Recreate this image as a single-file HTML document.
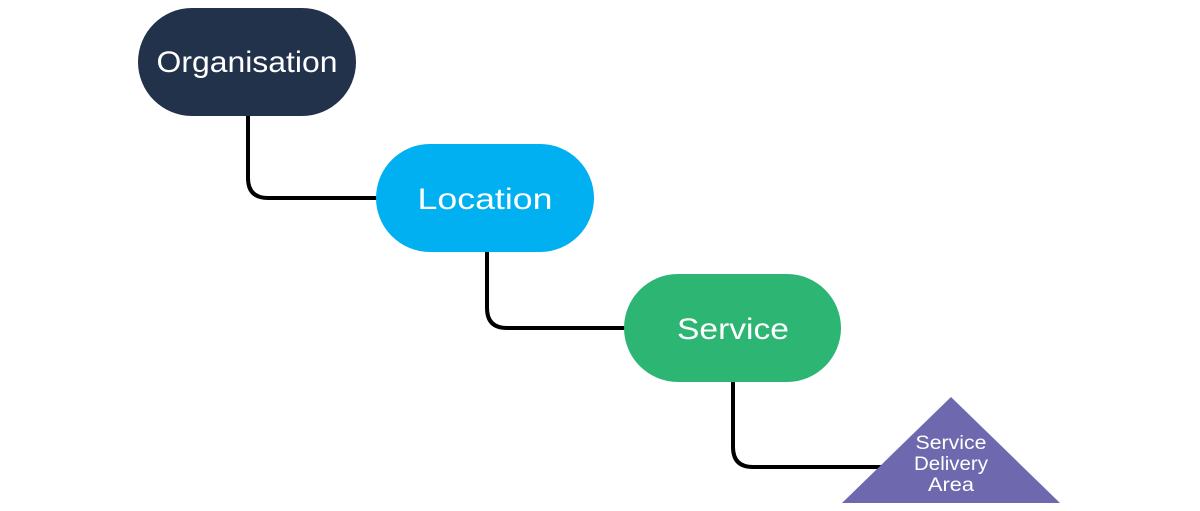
<!DOCTYPE html>
<html><head><style>
body{margin:0;background:#fff;}
svg{display:block}
text{font-family:"Liberation Sans",sans-serif;fill:#fff;text-anchor:middle;}
</style></head><body>
<svg width="1200" height="511" viewBox="0 0 1200 511">
<g fill="none" stroke="#000" stroke-width="4">
<path d="M248 110 V178 Q248 198 268 198 H380"/>
<path d="M487 248 V308 Q487 328 507 328 H628"/>
<path d="M733 378 V447 Q733 467 753 467 H885"/>
</g>
<rect x="138" y="8" width="218" height="108" rx="54" fill="#22324b"/>
<rect x="376" y="144" width="218" height="108" rx="54" fill="#00b0f0"/>
<rect x="624" y="274" width="217" height="108" rx="54" fill="#2db673"/>
<polygon points="951,397 1060,503 842,503" fill="#6e69ae"/>
<text x="247" y="72" font-size="30" textLength="181" lengthAdjust="spacingAndGlyphs">Organisation</text>
<text x="485" y="209" font-size="30" textLength="135" lengthAdjust="spacingAndGlyphs">Location</text>
<text x="733" y="339" font-size="30" textLength="112" lengthAdjust="spacingAndGlyphs">Service</text>
<text x="951" y="449" font-size="19" textLength="71" lengthAdjust="spacingAndGlyphs">Service</text>
<text x="951" y="470" font-size="19" textLength="74" lengthAdjust="spacingAndGlyphs">Delivery</text>
<text x="951" y="491" font-size="19" textLength="46" lengthAdjust="spacingAndGlyphs">Area</text>
</svg>
</body></html>
